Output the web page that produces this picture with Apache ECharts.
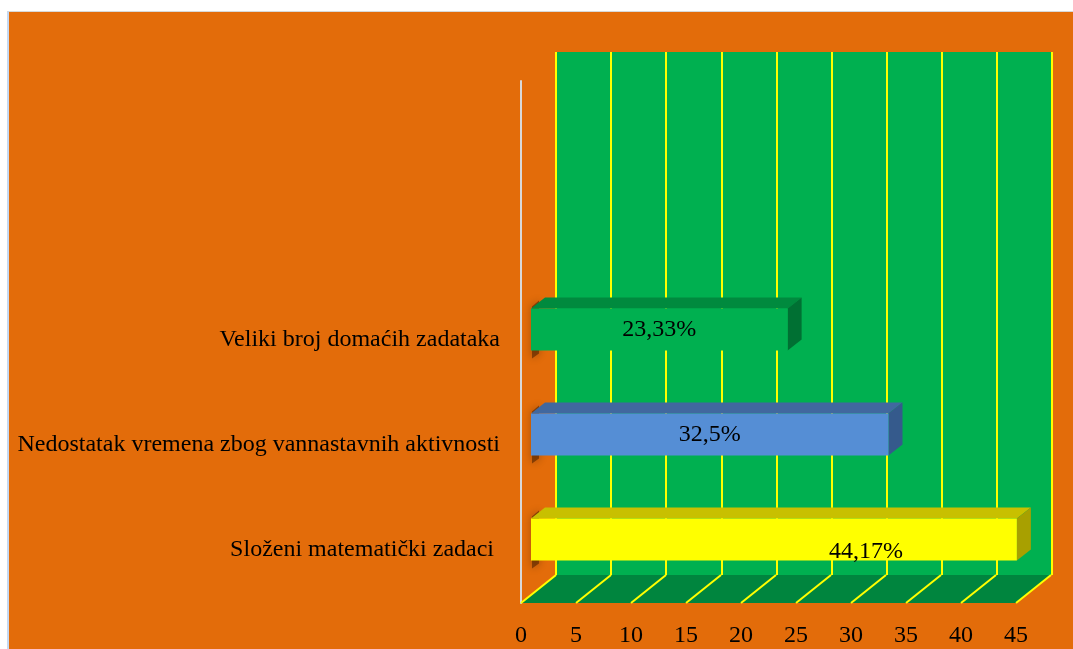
<!DOCTYPE html>
<html>
<head>
<meta charset="utf-8">
<script src="https://cdn.jsdelivr.net/npm/echarts@6/dist/echarts.min.js"></script>
<style>
  html, body { margin: 0; padding: 0; background: #fff; }
  #frame {
    position: absolute; left: 7px; top: 11px;
    width: 1064px; height: 637px;
    background: #E36C0A;
    border-left: 2px solid #C6D9F1;
    border-top: 1px solid #D8D8D8;
  }
  #chart { position: absolute; left: 0; top: 0; width: 1073px; height: 649px; }
</style>
</head>
<body>
<div id="frame"></div>
<div id="chart"></div>
<script>
// kategorije odozdo prema gore
const categories = [
  'Složeni matematički zadaci ',
  'Nedostatak vremena zbog vannastavnih aktivnosti',
  'Veliki broj domaćih zadataka'
];
const values = [44.17, 32.5, 23.33];
const valueLabels = ['44,17%', '32,5%', '23,33%'];
const xTicks = [0, 5, 10, 15, 20, 25, 30, 35, 40, 45];

// boje: prednja, gornja i bočna strana stupca
const faceColors = [
  ['#FFFF00', '#C8C000', '#A8A000'],
  ['#558ED5', '#41689F', '#355A8C'],
  ['#00B050', '#008A3E', '#007033']
];
const font = '"Liberation Serif", "Times New Roman", serif';
const depth = [14, -11];       // dubina stupca
const floorDepth = [35, -28];  // dubina poda

const myChart = echarts.init(document.getElementById('chart'));

const renderBar = (params, api) => {
  const cat = api.value(1);
  const start = api.coord([0, cat]);
  const end = api.coord([api.value(0), cat]);
  const h = api.size([0, 1])[1] * 0.4;
  const x0 = start[0], x1 = end[0];
  const yt = start[1] - h / 2, yb = start[1] + h / 2;
  const c = faceColors[params.dataIndex];
  const [dx, dy] = depth;
  // najduži stupac ima pomaknutu oznaku kao u originalu
  const shift = params.dataIndex === 0 ? [92, 12] : [0, 0];
  return {
    type: 'group',
    children: [
      // sjena lijevog kraja
      {
        type: 'polygon',
        shape: { points: [[x0 + 1, yt - 2], [x0 + dx - 6, yt + dy + 3], [x0 + dx - 6, yb + dy + 14], [x0 + 1, yb + 8]] },
        style: { fill: 'rgba(70,30,0,0.55)', shadowBlur: 8, shadowColor: 'rgba(0,0,0,0.6)' }
      },
      {
        type: 'polygon',
        shape: { points: [[x0, yt], [x0 + dx, yt + dy], [x1 + dx, yt + dy], [x1, yt]] },
        style: { fill: c[1] }
      },
      {
        type: 'polygon',
        shape: { points: [[x1, yt], [x1 + dx, yt + dy], [x1 + dx, yb + dy], [x1, yb]] },
        style: { fill: c[2] }
      },
      {
        type: 'rect',
        shape: { x: x0, y: yt, width: x1 - x0, height: h },
        style: { fill: c[0] }
      },
      {
        type: 'text',
        x: (x0 + x1) / 2 + shift[0],
        y: start[1] + shift[1],
        style: {
          text: valueLabels[params.dataIndex],
          fill: '#000',
          font: '24px ' + font,
          align: 'center',
          verticalAlign: 'middle'
        }
      }
    ]
  };
};

const renderFloor = (params, api) => {
  const cs = params.coordSys;
  const yb = cs.y + cs.height;
  const [dx, dy] = floorDepth;
  const xa = api.coord([xTicks[0], 0])[0];
  const xb = api.coord([xTicks[xTicks.length - 1], 0])[0];
  const children = [{
    type: 'polygon',
    shape: { points: [[xa, yb], [xb, yb], [xb + dx, yb + dy], [xa + dx, yb + dy]] },
    style: { fill: '#00853E' }
  }];
  xTicks.forEach((t) => {
    const x = api.coord([t, 0])[0];
    children.push({
      type: 'line',
      shape: { x1: x, y1: yb, x2: x + dx, y2: yb + dy },
      style: { stroke: '#FFFF00', lineWidth: 2 }
    });
  });
  return { type: 'group', children };
};

const option = {
  animation: false,
  backgroundColor: 'transparent',
  grid: [
    // zadnji zid
    { left: 556, top: 52, width: 496, height: 523, show: true, backgroundColor: '#00B050', borderWidth: 0 },
    // prednja ravnina s osima
    { left: 521, top: 81, width: 495, height: 522 },
    // stupci
    { left: 531, top: 277, width: 495, height: 315 }
  ],
  xAxis: [
    {
      gridIndex: 0, type: 'value', min: 0, max: 45, interval: 5,
      axisLine: { show: false }, axisTick: { show: false }, axisLabel: { show: false },
      splitLine: { show: true, lineStyle: { color: '#FFFF00', width: 2 } }
    },
    {
      gridIndex: 1, type: 'value', min: 0, max: 45, interval: 5,
      axisLine: { show: false }, axisTick: { show: false }, splitLine: { show: false },
      axisLabel: { color: '#000', fontFamily: font, fontSize: 24, margin: 21 }
    },
    {
      gridIndex: 2, type: 'value', min: 0, max: 45, interval: 5, show: false
    }
  ],
  yAxis: [
    { gridIndex: 0, type: 'value', show: false },
    {
      gridIndex: 1, type: 'value', min: 0, max: 1,
      axisLine: { show: true, lineStyle: { color: '#D9D9D9', width: 2 } },
      axisTick: { show: false }, axisLabel: { show: false }, splitLine: { show: false }
    },
    {
      gridIndex: 2, type: 'category', data: categories,
      axisLine: { show: false }, axisTick: { show: false },
      axisLabel: {
        color: '#000', fontFamily: font, fontSize: 24, margin: 31,
        verticalAlign: 'top', lineHeight: 20
      }
    }
  ],
  series: [
    {
      type: 'custom',
      xAxisIndex: 1, yAxisIndex: 1,
      renderItem: renderFloor,
      data: [[xTicks[xTicks.length - 1], 0]],
      silent: true
    },
    {
      type: 'custom',
      xAxisIndex: 2, yAxisIndex: 2,
      renderItem: renderBar,
      encode: { x: 0, y: 1 },
      data: values.map((v, i) => [v, i])
    }
  ]
};
myChart.setOption(option);
</script>
</body>
</html>
